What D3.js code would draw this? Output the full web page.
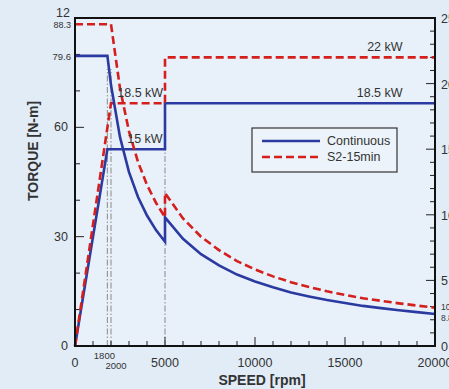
<!DOCTYPE html>
<html>
<head>
<meta charset="utf-8">
<script src="https://cdn.jsdelivr.net/npm/d3@7"></script>
<style>
  html, body { margin: 0; padding: 0; background: #e1ecf7; overflow: hidden; }
  svg { display: block; font-family: "Liberation Sans", Arial, sans-serif; }
  .lbl { fill: #333; }
</style>
</head>
<body>
<svg id="chart" width="449" height="389"></svg>
<script>
// torque curves (speed rpm, torque N-m)
var contTorque = [
  [0, 79.6], [1800, 79.6], [2000, 71.6], [2500, 57.3], [3000, 47.7], [3500, 40.9],
  [4000, 35.8], [4500, 31.8], [5000, 28.6], [5000, 35.3], [6000, 29.4], [7000, 25.2],
  [8000, 22.1], [9000, 19.6], [10000, 17.7], [11000, 16.1], [12000, 14.7], [13000, 13.6],
  [14000, 12.6], [15000, 11.8], [16000, 11.0], [17000, 10.4], [18000, 9.8], [19000, 9.3],
  [20000, 8.8]
];
var s2Torque = [
  [0, 88.3], [2000, 88.3], [2500, 70.7], [3000, 58.9], [3500, 50.5], [4000, 44.2],
  [4500, 39.3], [5000, 35.3], [5000, 42.0], [6000, 35.0], [7000, 30.0], [8000, 26.3],
  [9000, 23.3], [10000, 21.0], [11000, 19.1], [12000, 17.5], [13000, 16.2], [14000, 15.0],
  [15000, 14.0], [16000, 13.1], [17000, 12.4], [18000, 11.7], [19000, 11.1], [20000, 10.5]
];
// power curves (speed rpm, power kW)
var contPower = [[0, 0], [1800, 15], [5000, 15], [5000, 18.5], [20000, 18.5]];
var s2Power = [[0, 0], [2000, 18.5], [5000, 18.5], [5000, 22], [20000, 22]];

var xTicks = [0, 5000, 10000, 15000, 20000];
var yTicks = [0, 30, 60];
var pTicks = [0, 5, 10, 15, 20, 25];
var refSpeeds = [1800, 2000, 5000];

var svg = d3.select("#chart"),
    margin = { top: 18, right: 14, bottom: 43, left: 75 },
    width = +svg.attr("width") - margin.left - margin.right,
    height = +svg.attr("height") - margin.top - margin.bottom;

var blue = "#2b3aa0", red = "#d41f1c";

var x = d3.scaleLinear().domain([0, 20000]).range([0, width]);
var y = d3.scaleLinear().domain([0, 90]).range([height, 0]);
var p = d3.scaleLinear().domain([0, 25]).range([height, 0]);

var g = svg.append("g")
    .attr("transform", "translate(" + margin.left + "," + margin.top + ")");

g.append("rect").attr("width", width).attr("height", height).attr("fill", "#e8f0f9");

// reference dash-dot lines
var refTop = { 1800: 76, 2000: 76, 5000: 54.5 };
g.selectAll(".ref").data(refSpeeds).enter().append("line")
    .attr("x1", function(d) { return x(d); })
    .attr("x2", function(d) { return x(d); })
    .attr("y1", y(0))
    .attr("y2", function(d) { return y(refTop[d]); })
    .attr("stroke", "#9a9a9a")
    .attr("stroke-width", 1.2)
    .attr("stroke-dasharray", "6,2,1.5,2");

// ticks (inward)
var minorX = d3.range(0, 20001, 1000);
g.selectAll(".xt").data(minorX).enter().append("line")
    .attr("x1", function(d) { return x(d); }).attr("x2", function(d) { return x(d); })
    .attr("y1", height).attr("y2", function(d) { return height - (d % 5000 === 0 ? 9 : 5); })
    .attr("stroke", "#222").attr("stroke-width", 1);
var minorY = d3.range(0, 91, 10);
g.selectAll(".yt").data(minorY).enter().append("line")
    .attr("x1", 0).attr("x2", function(d) { return d % 30 === 0 ? 9 : 5; })
    .attr("y1", function(d) { return y(d); }).attr("y2", function(d) { return y(d); })
    .attr("stroke", "#222").attr("stroke-width", 1);
var minorP = d3.range(0, 26, 1);
g.selectAll(".pt").data(minorP).enter().append("line")
    .attr("x1", width).attr("x2", function(d) { return width - (d % 5 === 0 ? 9 : 5); })
    .attr("y1", function(d) { return p(d); }).attr("y2", function(d) { return p(d); })
    .attr("stroke", "#222").attr("stroke-width", 1);

// lines
var tLine = d3.line().x(function(d) { return x(d[0]); }).y(function(d) { return y(d[1]); });
var pLine = d3.line().x(function(d) { return x(d[0]); }).y(function(d) { return p(d[1]); });

var series = [
  { data: contPower, gen: pLine, color: blue, dash: null },
  { data: s2Power, gen: pLine, color: red, dash: "8,4" },
  { data: contTorque, gen: tLine, color: blue, dash: null },
  { data: s2Torque, gen: tLine, color: red, dash: "8,4" }
];
g.selectAll(".curve").data(series).enter().append("path")
    .attr("d", function(d) { return d.gen(d.data); })
    .attr("fill", "none")
    .attr("stroke", function(d) { return d.color; })
    .attr("stroke-width", 2.6)
    .attr("stroke-dasharray", function(d) { return d.dash; });

// frame
g.append("rect").attr("width", width).attr("height", height)
    .attr("fill", "none").attr("stroke", "#111").attr("stroke-width", 2);

// power annotations
var notes = [
  { text: "22 kW", sp: 18200, kw: 22, anchor: "end" },
  { text: "18.5 kW", sp: 18200, kw: 18.5, anchor: "end" },
  { text: "18.5 kW", sp: 2350, kw: 18.5, anchor: "start" },
  { text: "15 kW", sp: 2900, kw: 15, anchor: "start" }
];
g.selectAll(".note").data(notes).enter().append("text")
    .attr("class", "lbl")
    .attr("x", function(d) { return x(d.sp); })
    .attr("y", function(d) { return p(d.kw) - 6; })
    .attr("text-anchor", function(d) { return d.anchor; })
    .attr("font-size", 12.5)
    .text(function(d) { return d.text; });

// legend
var lg = g.append("g").attr("transform", "translate(" + (252 - margin.left) + "," + (128 - margin.top) + ")");
lg.append("rect").attr("width", 145).attr("height", 44)
    .attr("fill", "#edf3fa").attr("stroke", "#333").attr("stroke-width", 1.2);
[{ name: "Continuous", color: blue, dash: null }, { name: "S2-15min", color: red, dash: "8,4" }]
  .forEach(function(d, i) {
    lg.append("line").attr("x1", 10).attr("x2", 68)
        .attr("y1", 13 + i * 16).attr("y2", 13 + i * 16)
        .attr("stroke", d.color).attr("stroke-width", 2.5)
        .attr("stroke-dasharray", d.dash);
    lg.append("text").attr("class", "lbl").attr("x", 75).attr("y", 17 + i * 16)
        .attr("font-size", 12.5).text(d.name);
  });

// x tick labels
g.selectAll(".xl").data(xTicks).enter().append("text")
    .attr("class", "lbl")
    .attr("x", function(d) { return x(d); })
    .attr("y", height + 21)
    .attr("text-anchor", "middle")
    .attr("font-size", 12.5)
    .text(function(d) { return d; });
g.append("text").attr("class", "lbl").attr("x", x(1800) - 3).attr("y", height + 13)
    .attr("text-anchor", "middle").attr("font-size", 9.5).text("1800");
g.append("text").attr("class", "lbl").attr("x", x(2000) + 5).attr("y", height + 23)
    .attr("text-anchor", "middle").attr("font-size", 9.5).text("2000");

// y tick labels
g.selectAll(".yl").data(yTicks).enter().append("text")
    .attr("class", "lbl")
    .attr("x", -7)
    .attr("y", function(d) { return y(d) + 4; })
    .attr("text-anchor", "end")
    .attr("font-size", 12.5)
    .text(function(d) { return d; });
g.append("text").attr("class", "lbl").attr("x", -5).attr("y", y(90) - 1)
    .attr("text-anchor", "end").attr("font-size", 12.5).text("12");
g.append("text").attr("class", "lbl").attr("x", -4).attr("y", y(88.3) + 4)
    .attr("text-anchor", "end").attr("font-size", 9).text("88.3");
g.append("text").attr("class", "lbl").attr("x", -4).attr("y", y(79.6) + 4)
    .attr("text-anchor", "end").attr("font-size", 9.5).text("79.6");

// right tick labels
g.selectAll(".pl").data(pTicks).enter().append("text")
    .attr("class", "lbl")
    .attr("x", width + 6)
    .attr("y", function(d) { return p(d) + 5; })
    .attr("font-size", 12.5)
    .text(function(d) { return d; });
g.append("text").attr("class", "lbl").attr("x", width + 6).attr("y", y(10.5) + 2)
    .attr("font-size", 8.5).text("10.5");
g.append("text").attr("class", "lbl").attr("x", width + 6).attr("y", y(8.8) + 7)
    .attr("font-size", 8.5).text("8.8");

// axis titles
svg.append("text").attr("class", "lbl")
    .attr("transform", "translate(38," + (margin.top + 133) + ") rotate(-90)")
    .attr("text-anchor", "middle").attr("font-size", 14).attr("font-weight", "bold")
    .text("TORQUE [N-m]");
svg.append("text").attr("class", "lbl")
    .attr("x", 262).attr("y", 385)
    .attr("text-anchor", "middle").attr("font-size", 14).attr("font-weight", "bold")
    .text("SPEED [rpm]");
</script>
</body>
</html>
